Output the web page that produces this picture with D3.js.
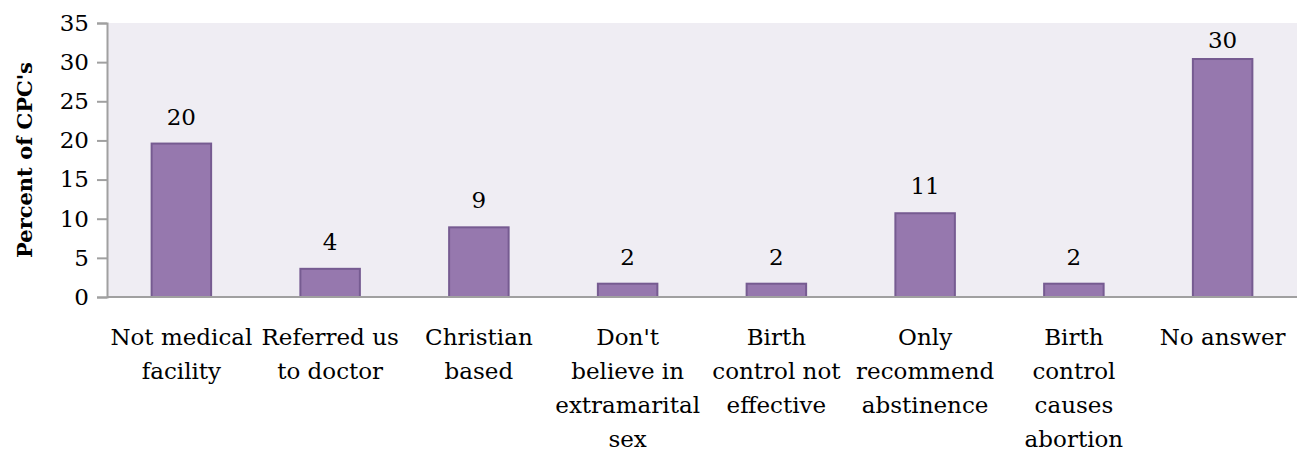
<!DOCTYPE html>
<html>
<head>
<meta charset="utf-8">
<script src="https://cdn.jsdelivr.net/npm/d3@7"></script>
<style>
  html, body { margin: 0; padding: 0; background: #ffffff; }
  svg { display: block; }
  text { font-family: "DejaVu Serif", "Liberation Serif", serif; fill: #000; }
</style>
</head>
<body>
<svg id="chart" width="1300" height="454"></svg>
<script>
// Reasons given for not offering birth control, by share of CPCs
const categories = [
  "Not medical\nfacility",
  "Referred us\nto doctor",
  "Christian\nbased",
  "Don't\nbelieve in\nextramarital\nsex",
  "Birth\ncontrol not\neffective",
  "Only\nrecommend\nabstinence",
  "Birth\ncontrol\ncauses\nabortion",
  "No answer"
];
const percentValues = [19.6, 3.6, 8.9, 1.7, 1.7, 10.7, 1.7, 30.4];
const yTicks = [0, 5, 10, 15, 20, 25, 30, 35];
const yTitle = "Percent of CPC's";

const svg = d3.select("#chart");
const plot = { left: 107, right: 1297, top: 23, bottom: 297 };

const x = d3.scaleBand()
  .domain(categories)
  .range([plot.left, plot.right])
  .paddingInner(0.6)
  .paddingOuter(0.3);

const y = d3.scaleLinear()
  .domain([0, 35])
  .range([plot.bottom, plot.top]);

// plot area background
svg.append("rect")
  .attr("x", plot.left)
  .attr("y", plot.top)
  .attr("width", plot.right - plot.left)
  .attr("height", plot.bottom - plot.top)
  .attr("fill", "#efedf3");

// bars
svg.append("g")
  .selectAll("rect")
  .data(percentValues)
  .join("rect")
  .attr("x", (d, i) => x(categories[i]))
  .attr("y", d => y(d))
  .attr("width", x.bandwidth())
  .attr("height", d => y(0) - y(d))
  .attr("fill", "#9678ae")
  .attr("stroke", "#765b91")
  .attr("stroke-width", 2);

// value labels above bars, kept inside the plot area
svg.append("g")
  .selectAll("text")
  .data(percentValues)
  .join("text")
  .attr("x", (d, i) => x(categories[i]) + x.bandwidth() / 2)
  .attr("y", d => Math.max(y(d) - 19, plot.top + 25))
  .attr("text-anchor", "middle")
  .style("font-size", "23px")
  .text(d => d3.format(".0f")(d));

// y axis
const yAxis = svg.append("g")
  .attr("transform", `translate(${plot.left},0)`)
  .call(d3.axisLeft(y).tickValues(yTicks).tickSize(10).tickPadding(8));
yAxis.select(".domain").attr("stroke", "#a0a0a0").attr("stroke-width", 2);
yAxis.selectAll(".tick line").attr("stroke", "#a0a0a0").attr("stroke-width", 2);
yAxis.selectAll(".tick text")
  .style("font-size", "23px")
  .style("font-family", "'DejaVu Serif', serif")
  .attr("fill", "#000");

// x axis baseline
svg.append("line")
  .attr("x1", plot.left)
  .attr("x2", plot.right)
  .attr("y1", y(0))
  .attr("y2", y(0))
  .attr("stroke", "#a0a0a0")
  .attr("stroke-width", 2);

// category labels, one tspan per line
const catLabels = svg.append("g")
  .selectAll("text")
  .data(categories)
  .join("text")
  .attr("text-anchor", "middle")
  .attr("transform", d => `translate(${x(d) + x.bandwidth() / 2},${plot.bottom + 48})`)
  .style("font-size", "23px");
catLabels.selectAll("tspan")
  .data(d => d.split("\n"))
  .join("tspan")
  .attr("x", 0)
  .attr("y", (d, i) => i * 34)
  .text(d => d);

// y axis title
svg.append("text")
  .attr("transform", `translate(32,${(plot.top + plot.bottom) / 2}) rotate(-90)`)
  .attr("text-anchor", "middle")
  .style("font-size", "21px")
  .style("font-weight", "bold")
  .text(yTitle);
</script>
</body>
</html>
